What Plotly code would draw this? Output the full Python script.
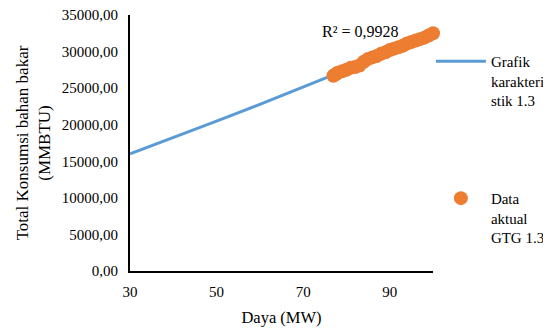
import plotly.graph_objects as go

# Characteristic curve
curve_x = [30, 40, 50, 60, 70, 80, 90, 100]
curve_y = [16030, 18230, 20480, 22780, 25140, 27540, 30000, 32500]

# Actual data points
data_x = [77, 77.5, 78, 79, 80, 81, 82, 83, 84, 85, 86, 87, 88, 89, 90, 91, 92, 93, 94, 95, 96, 97, 98, 99, 100]
data_y = [26700, 26900, 27100, 27300, 27500, 27800, 27900, 28100, 28600, 29000, 29200, 29400, 29700,
          29900, 30200, 30400, 30600, 30800, 31100, 31300, 31500, 31700, 31900, 32200, 32500]

font = "Liberation Serif, Times New Roman, serif"

fig = go.Figure()
fig.add_trace(go.Scatter(
    x=curve_x, y=curve_y, mode="lines",
    line=dict(color="#5B9BD5", width=3),
    name="Grafik<br>karakteri<br>stik 1.3", legend="legend", showlegend=True,
))
fig.add_trace(go.Scatter(
    x=data_x, y=data_y, mode="markers",
    marker=dict(color="#ED7D31", size=14),
    name="Data<br>aktual<br>GTG 1.3", legend="legend2", showlegend=True,
    cliponaxis=False,
))

fig.add_annotation(
    x=74.0, y=32700, xref="x", yref="y", text="R² = 0,9928", showarrow=False,
    font=dict(family=font, size=16, color="black"), xanchor="left", yanchor="middle",
)

fig.update_layout(
    width=543, height=325,
    margin=dict(l=122, r=118, t=7, b=62, autoexpand=False),
    plot_bgcolor="white", paper_bgcolor="white",
    separators=",.",
    showlegend=True,
    font=dict(family=font, size=15, color="black"),
    legend=dict(x=0.993, y=0.883, xanchor="left", yanchor="top", itemwidth=50, valign="top",
                font=dict(family=font, size=15), bgcolor="rgba(0,0,0,0)"),
    legend2=dict(x=0.993, y=0.348, xanchor="left", yanchor="top", itemwidth=50, valign="top",
                 font=dict(family=font, size=15), bgcolor="rgba(0,0,0,0)"),
    xaxis=dict(
        range=[30, 100], dtick=20, tick0=30, showgrid=False, zeroline=False,
        showline=True, linecolor="black", linewidth=2, ticks="", automargin=False,
        ticklabelstandoff=6, ticklabeloverflow="allow",
        title=dict(text="Daya (MW)", font=dict(family=font, size=16.5), standoff=12),
        tickfont=dict(family=font, size=15),
    ),
    yaxis=dict(
        range=[0, 35000], dtick=5000, showgrid=False, zeroline=False,
        showline=True, linecolor="black", linewidth=2, ticks="", automargin=False,
        tickformat=".2f", ticklabelstandoff=7, ticklabeloverflow="allow",
        title=dict(text="Total Konsumsi bahan bakar<br>(MMBTU)", font=dict(family=font, size=17), standoff=7),
        tickfont=dict(family=font, size=15),
    ),
)

fig.write_html("out.html")
